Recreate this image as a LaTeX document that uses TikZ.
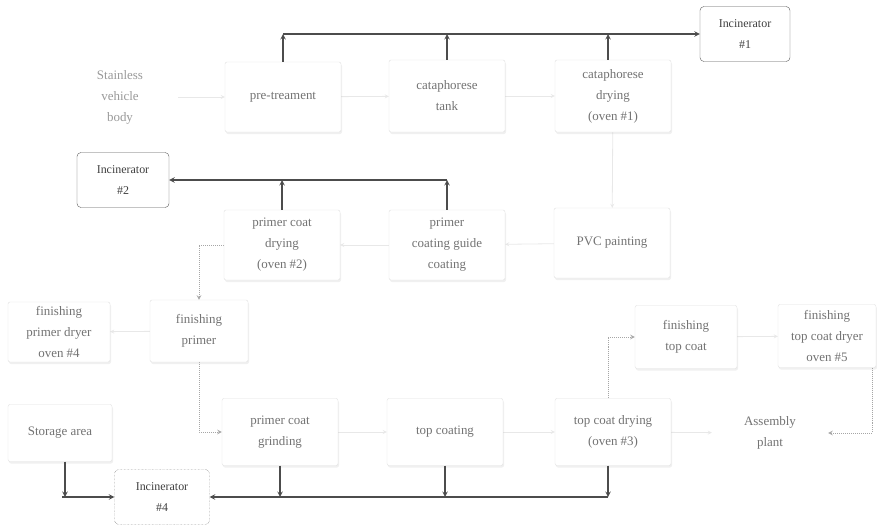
\documentclass[tikz,border=0pt]{standalone}
\usepackage{fontspec}
\setmainfont{Liberation Serif}
\usetikzlibrary{positioning,calc,backgrounds,shadows}
\tikzstyle{plant}=[
  >=stealth, font=\fontsize{13}{21}\selectfont, text=black!55
]
\tikzstyle{stage}=[
  draw=black!12, fill=white, rounded corners=2pt, align=center,
  minimum width=116bp, minimum height=70bp,
  drop shadow={opacity=0.12,shadow xshift=1bp,shadow yshift=-2bp}
]
\tikzstyle{bare}=[
  align=center, minimum width=116bp, minimum height=60bp
]
\tikzstyle{incinerator}=[
  draw=black!65, rounded corners=4pt, fill=white, align=center,
  minimum width=92bp, minimum height=55bp, text=black!75,
  font=\fontsize{12}{21}\selectfont
]
\tikzstyle{duct}=[
  line width=1.4pt, draw=black!70
]
\tikzstyle{flow}=[
  line width=0.8pt, draw=black!9
]
\tikzstyle{transfer}=[
  line width=1pt, draw=black!35, densely dotted
]

\begin{document}
\begin{tikzpicture}[plant]
    \useasboundingbox (0bp,0bp) rectangle (877bp,-528bp);
    % first row
    \node (body) at (120bp,-97bp) [bare, text=black!40] {Stainless\\vehicle\\body};
    \node (pre) at (283bp,-97bp) [stage] {pre-treament};
    \node (tank) at (447bp,-96bp) [stage, minimum height=72bp] {cataphorese\\tank};
    \node (oven1) at (613bp,-96bp) [stage, minimum height=72bp] {cataphorese\\drying\\(oven \#1)};
    \node (inc1) at (745bp,-34bp) [incinerator, minimum width=90bp] {Incinerator\\\#1};
    % second row
    \node (inc2) at (123bp,-180bp) [incinerator] {Incinerator\\\#2};
    \node (oven2) at (282bp,-245bp) [stage] {primer coat\\drying\\(oven \#2)};
    \node (guide) at (447bp,-245bp) [stage] {primer\\coating guide\\coating};
    \node (pvc) at (612bp,-243bp) [stage] {PVC painting};
    % third row
    \node (oven4) at (59bp,-332bp) [stage, minimum width=102bp, minimum height=60bp] {finishing\\primer dryer\\oven \#4};
    \node (fprimer) at (199bp,-331bp) [stage, minimum width=98bp, minimum height=62bp] {finishing\\primer};
    \node (ftop) at (686bp,-337bp) [stage, minimum width=102bp, minimum height=63bp] {finishing\\top coat};
    \node (oven5) at (827bp,-336bp) [stage, minimum width=98bp, minimum height=63bp] {finishing\\top coat dryer\\oven \#5};
    % fourth row
    \node (store) at (60bp,-433bp) [stage, minimum width=104bp, minimum height=57bp] {Storage area};
    \node (grind) at (280bp,-432bp) [stage, minimum height=67bp] {primer coat\\grinding};
    \node (topc) at (445bp,-432bp) [stage, minimum height=67bp] {top coating};
    \node (oven3) at (613bp,-432bp) [stage, minimum height=67bp] {top coat drying\\(oven \#3)};
    \node (asm) at (770bp,-433bp) [bare] {Assembly\\plant};
    \node (inc4) at (162bp,-497bp) [incinerator, densely dotted, minimum width=95bp] {Incinerator\\\#4};
    \begin{scope}[on background layer]
      % process flow
      \draw [flow,->] (body) -- (pre);
      \draw [flow,->] (pre) -- (tank);
      \draw [flow,->] (tank) -- (oven1);
      \draw [flow,->] (oven1) -- (pvc);
      \draw [flow,->] (pvc) -- (guide);
      \draw [flow,->] (guide) -- (oven2);
      \draw [flow,->] (fprimer) -- (oven4);
      \draw [flow,->] (grind) -- (topc);
      \draw [flow,->] (topc) -- (oven3);
      \draw [flow,->] (oven3) -- (asm);
      \draw [flow,->] (ftop) -- (oven5);
      \draw [transfer,->] (oven2.west) -| (fprimer.north);
      \draw [transfer,->] (fprimer.south) |- (grind.west);
      \draw [transfer,->] ([xshift=-5bp]oven3.north) |- (ftop.west);
      \draw [transfer,->] ([xshift=-4bp]oven5.south east) |- (asm.east);
    \end{scope}
    % exhaust ducts
    \draw [duct,->] (pre.north |- inc1.west) -- (inc1.west);
    \draw [duct,->] (pre.north) -- (pre.north |- inc1.west);
    \draw [duct,->] (tank.north) -- (tank.north |- inc1.west);
    \draw [duct,->] ([xshift=-5bp]oven1.north) -- ([xshift=-5bp]oven1.north |- inc1.west);
    \draw [duct,->] (guide.north |- inc2.east) -- (inc2.east);
    \draw [duct,->] (oven2.north) -- (oven2.north |- inc2.east);
    \draw [duct,->] (guide.north) -- (guide.north |- inc2.east);
    \draw [duct,->] ([xshift=-5bp]oven3.south |- inc4.east) -- (inc4.east);
    \draw [duct,->] (grind.south) -- (grind.south |- inc4.east);
    \draw [duct,->] (topc.south) -- (topc.south |- inc4.east);
    \draw [duct,->] ([xshift=-5bp]oven3.south) -- ([xshift=-5bp]oven3.south |- inc4.east);
    \draw [duct,->] ([xshift=5bp]store.south) -- ([xshift=5bp]store.south |- inc4.west);
    \draw [duct,->] ([xshift=2bp]store.south |- inc4.west) -- (inc4.west);
  \end{tikzpicture}
\end{document}
